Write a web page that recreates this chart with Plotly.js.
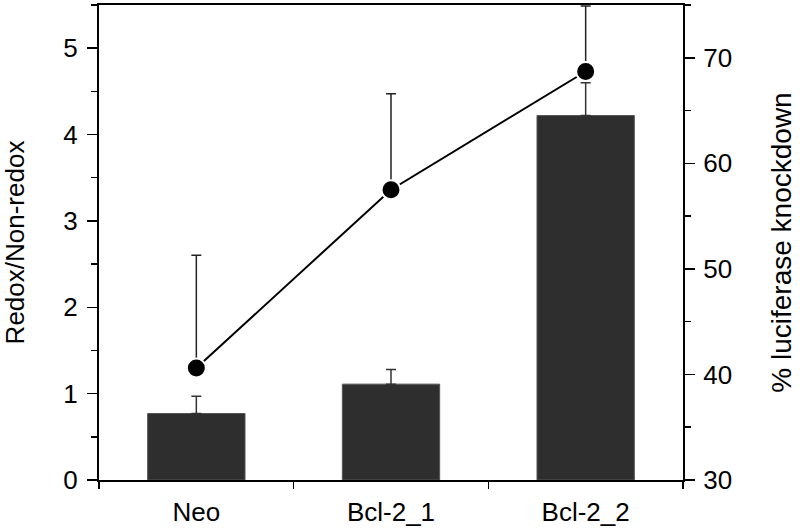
<!DOCTYPE html>
<html>
<head>
<meta charset="utf-8">
<script src="https://cdn.plot.ly/plotly-3.0.1.min.js"></script>
<style>html,body{margin:0;padding:0;background:#fff;}#chart{width:800px;height:532px;}</style>
</head>
<body>
<div id="chart"></div>
<script>
const categories = ['Neo', 'Bcl-2_1', 'Bcl-2_2'];
const ratio = [0.77, 1.11, 4.22];
const ratioErr = [0.20, 0.17, 0.38];
const knockdown = [40.6, 57.5, 68.7];
const knockdownErr = [10.7, 9.1, 6.2];
const leftTicks = [0, 1, 2, 3, 4, 5];
const rightTicks = [30, 40, 50, 60, 70];

const FONT = 'Liberation Sans, Arial, Helvetica, sans-serif';

const traces = [
  {
    type: 'bar',
    x: categories,
    y: ratio,
    yaxis: 'y',
    width: 0.5,
    marker: {color: '#2e2e2e', line: {color: '#555555', width: 1}},
    error_y: {type: 'data', array: ratioErr, symmetric: false, arrayminus: [0, 0, 0],
              color: '#333333', thickness: 1.5, width: 5},
    showlegend: false,
    hoverinfo: 'skip'
  },
  {
    type: 'scatter',
    mode: 'lines+markers',
    x: categories,
    y: knockdown,
    yaxis: 'y2',
    line: {color: '#000000', width: 2},
    marker: {color: '#000000', size: 19, line: {color: '#ffffff', width: 2}},
    error_y: {type: 'data', array: knockdownErr, symmetric: false, arrayminus: [0, 0, 0],
              color: '#222222', thickness: 1.5, width: 5},
    showlegend: false,
    hoverinfo: 'skip'
  }
];

const layout = {
  width: 800,
  height: 532,
  margin: {l: 99, r: 117, t: 5, b: 52},
  paper_bgcolor: '#ffffff',
  plot_bgcolor: '#ffffff',
  font: {family: FONT, size: 26, color: '#000000'},
  showlegend: false,
  xaxis: {
    type: 'category',
    range: [-0.5, 2.5],
    showline: true, linecolor: '#000', linewidth: 2,
    mirror: true,
    ticks: 'outside', tickson: 'boundaries', ticklen: 7, tickwidth: 1.5, tickcolor: '#000',
    ticklabelstandoff: 8,
    tickfont: {family: FONT, size: 26},
    showgrid: false, zeroline: false
  },
  yaxis: {
    range: [0, 5.5],
    tickvals: leftTicks,
    showline: true, linecolor: '#000', linewidth: 2,
    ticks: 'outside', ticklen: 10, tickwidth: 1.5, tickcolor: '#000',
    ticklabelstandoff: 4,
    minor: {dtick: 0.5, ticks: 'outside', ticklen: 6, tickwidth: 1.5, tickcolor: '#000'},
    tickfont: {family: FONT, size: 26},
    showgrid: false, zeroline: false,
    title: {text: 'Redox/Non-redox', font: {family: FONT, size: 26}, standoff: 36}
  },
  yaxis2: {
    overlaying: 'y',
    side: 'right',
    range: [30, 75],
    tickvals: rightTicks,
    showline: true, linecolor: '#000', linewidth: 2,
    ticks: 'outside', ticklen: 10, tickwidth: 1.5, tickcolor: '#000',
    ticklabelstandoff: 3,
    minor: {dtick: 5, ticks: 'outside', ticklen: 6, tickwidth: 1.5, tickcolor: '#000'},
    tickfont: {family: FONT, size: 26},
    showgrid: false, zeroline: false,
    title: {text: '% luciferase knockdown', font: {family: FONT, size: 28}, standoff: 40}
  }
};

Plotly.newPlot('chart', traces, layout, {staticPlot: true, displayModeBar: false});
</script>
</body>
</html>
